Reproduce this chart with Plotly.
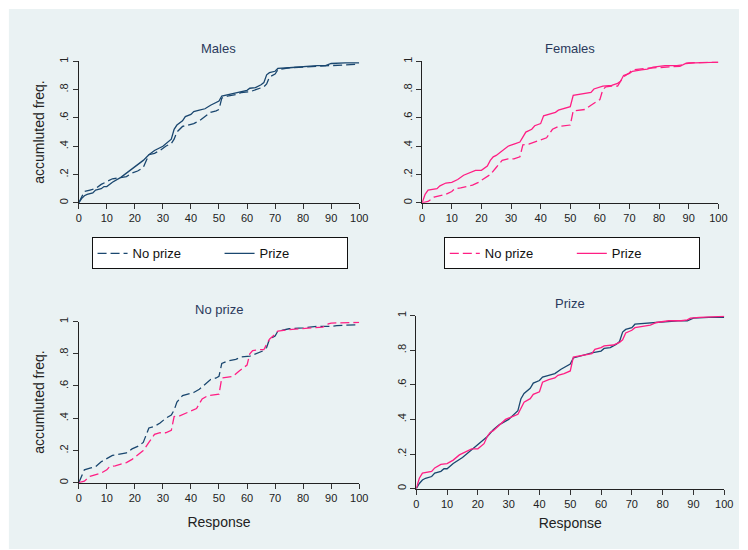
import plotly.graph_objects as go

# ---------------- data ----------------
male_noprize_x = [0, 1, 2, 4, 6, 8, 10, 12, 14, 17, 19, 21, 23, 24, 25, 27, 29, 31, 33, 34, 35, 37, 39, 41, 43, 45, 47, 49, 50, 51, 53, 56, 58, 61, 63, 66, 67, 68, 70, 71, 75, 80, 85, 90, 92, 100]
male_noprize_y = [0, 0.04, 0.08, 0.09, 0.10, 0.13, 0.15, 0.17, 0.175, 0.185, 0.21, 0.225, 0.25, 0.30, 0.34, 0.35, 0.37, 0.40, 0.42, 0.45, 0.50, 0.54, 0.55, 0.56, 0.58, 0.61, 0.64, 0.65, 0.66, 0.74, 0.755, 0.765, 0.78, 0.785, 0.80, 0.82, 0.84, 0.89, 0.91, 0.94, 0.955, 0.96, 0.97, 0.97, 0.975, 0.98]

male_prize_x = [0, 1, 2, 3, 5, 6, 8, 9, 10, 11, 12, 15, 17, 19, 20, 22, 23, 25, 27, 30, 33, 34, 35, 37, 38, 40, 41, 43, 45, 47, 49, 50, 51, 53, 55, 57, 60, 61, 63, 65, 66, 67, 68, 70, 71, 75, 80, 85, 88, 90, 95, 100]
male_prize_y = [0, 0.03, 0.05, 0.06, 0.07, 0.09, 0.10, 0.115, 0.115, 0.13, 0.145, 0.18, 0.21, 0.235, 0.25, 0.28, 0.30, 0.34, 0.37, 0.40, 0.45, 0.52, 0.55, 0.58, 0.61, 0.625, 0.645, 0.655, 0.665, 0.69, 0.71, 0.72, 0.755, 0.765, 0.775, 0.785, 0.795, 0.81, 0.815, 0.835, 0.85, 0.905, 0.92, 0.93, 0.95, 0.955, 0.965, 0.97, 0.97, 0.985, 0.99, 0.99]

female_noprize_x = [0, 1, 2, 4, 6, 8, 10, 11, 13, 15, 17, 19, 21, 23, 25, 27, 29, 31, 33, 34, 36, 38, 40, 42, 43, 44, 46, 48, 50, 51, 53, 55, 57, 59, 60, 61, 62, 64, 66, 67, 68, 70, 71, 75, 80, 85, 87, 89, 90, 100]
female_noprize_y = [0, 0.005, 0.01, 0.04, 0.05, 0.06, 0.08, 0.10, 0.105, 0.115, 0.125, 0.145, 0.17, 0.20, 0.25, 0.30, 0.31, 0.31, 0.325, 0.41, 0.415, 0.43, 0.445, 0.46, 0.49, 0.52, 0.54, 0.545, 0.55, 0.65, 0.655, 0.66, 0.69, 0.72, 0.73, 0.80, 0.82, 0.825, 0.825, 0.86, 0.89, 0.92, 0.94, 0.95, 0.955, 0.96, 0.965, 0.985, 0.99, 0.995]

female_prize_x = [0, 1, 2, 4, 5, 6, 7, 8, 10, 12, 14, 16, 18, 20, 22, 23, 24, 25, 27, 29, 31, 33, 35, 37, 38, 40, 41, 43, 45, 46, 48, 50, 51, 55, 57, 58, 60, 61, 64, 66, 67, 68, 70, 71, 74, 76, 78, 80, 82, 86, 88, 89, 92, 100]
female_prize_y = [0, 0.06, 0.09, 0.095, 0.10, 0.12, 0.13, 0.14, 0.145, 0.165, 0.195, 0.215, 0.23, 0.23, 0.26, 0.30, 0.325, 0.335, 0.37, 0.40, 0.415, 0.43, 0.50, 0.52, 0.545, 0.56, 0.615, 0.63, 0.64, 0.655, 0.665, 0.68, 0.76, 0.775, 0.78, 0.805, 0.815, 0.825, 0.83, 0.845, 0.86, 0.90, 0.915, 0.93, 0.94, 0.945, 0.96, 0.965, 0.97, 0.97, 0.975, 0.985, 0.99, 0.995]

x_ticks = [0, 10, 20, 30, 40, 50, 60, 70, 80, 90, 100]
y_ticks = [0, 0.2, 0.4, 0.6, 0.8, 1]
y_tick_labels = ["0", ".2", ".4", ".6", ".8", "1"]
panel_titles = ["Males", "Females", "No prize", "Prize"]
legend_labels = ["No prize", "Prize"]
y_title = "accumluted freq."
x_title = "Response"

# ---------------- styling ----------------
W, H = 748, 550
NAVY = "#1a476f"
PINK = "#ff1f84"
BG = "#eaf2f3"
FONT = "Liberation Sans, Arial, sans-serif"
DASH = "9px,4px"
LW = 1.3

def px_x(p):
    return p / W

def px_y(p):
    return 1 - p / H

# panel pixel boxes: (left, right, top, bottom)
boxes = [
    (77, 362, 57, 200),
    (426, 727, 57, 200),
    (77, 362, 320, 483),
    (420, 733, 314, 489),
]
x_title_standoff = [6, 6, 14, 9]

fig = go.Figure()

def add(x, y, color, dash, ax, name, legend=None, show=False):
    fig.add_trace(go.Scatter(
        x=x, y=y, mode="lines", name=name,
        line=dict(color=color, width=LW, dash=dash),
        xaxis="x" + ("" if ax == 1 else str(ax)),
        yaxis="y" + ("" if ax == 1 else str(ax)),
        showlegend=show, legend=legend if legend else "legend",
        hoverinfo="skip",
    ))

add(male_noprize_x, male_noprize_y, NAVY, DASH, 1, legend_labels[0], "legend", True)
add(male_prize_x, male_prize_y, NAVY, "solid", 1, legend_labels[1], "legend", True)
add(female_noprize_x, female_noprize_y, PINK, DASH, 2, legend_labels[0], "legend2", True)
add(female_prize_x, female_prize_y, PINK, "solid", 2, legend_labels[1], "legend2", True)
add(male_noprize_x, male_noprize_y, NAVY, DASH, 3, legend_labels[0])
add(female_noprize_x, female_noprize_y, PINK, DASH, 3, legend_labels[0])
add(male_prize_x, male_prize_y, NAVY, "solid", 4, legend_labels[1])
add(female_prize_x, female_prize_y, PINK, "solid", 4, legend_labels[1])

layout = dict(
    width=W, height=H,
    margin=dict(l=0, r=0, t=0, b=0),
    paper_bgcolor="white",
    plot_bgcolor="white",
    font=dict(family=FONT, color="#222222", size=11),
    shapes=[dict(type="rect", xref="paper", yref="paper",
                 x0=px_x(6), x1=1, y0=0, y1=px_y(4),
                 fillcolor=BG, line=dict(width=0), layer="below")],
    annotations=[],
)

for i, (l, r, t, b) in enumerate(boxes):
    k = i + 1
    xa = "xaxis" + ("" if k == 1 else str(k))
    ya = "yaxis" + ("" if k == 1 else str(k))
    xref = "x" + ("" if k == 1 else str(k))
    yref = "y" + ("" if k == 1 else str(k))
    layout[xa] = dict(
        domain=[px_x(l), px_x(r)], range=[0, 100], anchor=yref,
        tickvals=x_ticks, ticks="outside", ticklen=5, tickcolor="#333333",
        showline=True, linecolor="#222222", linewidth=1,
        showgrid=False, zeroline=False,
        tickfont=dict(size=11, color="#222222"),
        title=dict(text=x_title if k in (3, 4) else "", font=dict(size=14, color="#222222"),
                   standoff=x_title_standoff[i]),
    )
    layout[ya] = dict(
        domain=[px_y(b), px_y(t)], range=[0, 1], anchor=xref,
        tickvals=y_ticks, ticktext=y_tick_labels, tickangle=-90,
        ticks="outside", ticklen=5, tickcolor="#333333",
        showline=True, linecolor="#222222", linewidth=1,
        showgrid=True, gridcolor=BG, gridwidth=1, zeroline=False,
        tickfont=dict(size=11, color="#222222"),
        title=dict(text=y_title if k in (1, 3) else "", font=dict(size=14, color="#222222"), standoff=10),
    )
    layout["annotations"].append(dict(
        text=panel_titles[i], xref="paper", yref="paper",
        x=px_x((l + r) / 2), y=px_y(t - 3), xanchor="center", yanchor="bottom",
        showarrow=False, font=dict(size=13, color="#2b3a5c"),
    ))

leg_common = dict(
    orientation="h", xanchor="left", yanchor="top",
    bgcolor="white", bordercolor="#111111", borderwidth=1,
    font=dict(size=13, color="#111111"),
    entrywidth=82, entrywidthmode="pixels",
    tracegroupgap=0,
)
layout["legend"] = dict(leg_common, x=px_x(90), y=px_y(235))
layout["legend2"] = dict(leg_common, x=px_x(448), y=px_y(235))

fig.update_layout(**layout)
fig.write_html("out.html", config={"displayModeBar": False},
               post_script="document.body.style.margin='0';document.body.style.padding='0';")
